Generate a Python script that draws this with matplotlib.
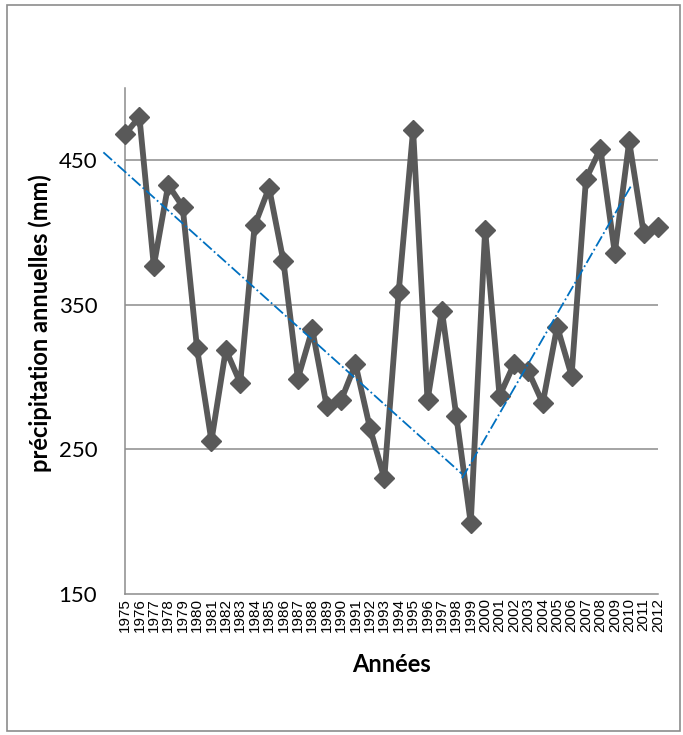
import matplotlib
matplotlib.use("Agg")
import matplotlib.pyplot as plt
from matplotlib.patches import Rectangle

years = list(range(1975, 2013))
precip = [468, 480, 377, 433, 418, 320, 256, 319, 296, 405,
          431, 380, 299, 333, 280, 284, 309, 265, 230, 359,
          471, 284, 346, 273, 199, 402, 287, 309, 304, 282,
          335, 301, 437, 458, 386, 463, 400, 404]

trend1_x = [1973.5, 1998.4]
trend1_y = [455.5, 233]
trend2_x = [1998.4, 2010.2]
trend2_y = [230, 433.5]

yticks = [150, 250, 350, 450]

plt.rcParams['font.family'] = ['Lato', 'DejaVu Sans']

fig = plt.figure(figsize=(6.83, 7.35), dpi=100)
ax = fig.add_axes([125/683, 1-594/735, (658-125)/683, (594-88)/735])

for g in [250, 350, 450]:
    ax.axhline(g, color='#8c8c8c', lw=1.1, zorder=1)

ax.plot(years, precip, color='#595959', lw=4.2, marker='D', markersize=10,
        markerfacecolor='#595959', markeredgecolor='#595959',
        clip_on=False, zorder=3)
ax.plot(trend1_x, trend1_y, color='#0070C0', lw=1.3, ls='-.', clip_on=False, zorder=4)
ax.plot(trend2_x, trend2_y, color='#0070C0', lw=1.3, ls='-.', clip_on=False, zorder=4)

ax.set_xlim(1975, 2012)
ax.set_ylim(150, 500)
ax.set_yticks(yticks)
ax.set_yticklabels([str(v) for v in yticks], fontsize=16)
ax.set_xticks(years)
ax.set_xticklabels([str(y) for y in years], rotation=90, fontsize=11,
                   family=['Liberation Sans', 'DejaVu Sans'])
ax.tick_params(axis='y', length=0, pad=20)
ax.tick_params(axis='x', length=0, pad=3)

for s in ['top', 'right']:
    ax.spines[s].set_visible(False)
for s in ['left', 'bottom']:
    ax.spines[s].set_color('#8c8c8c')
    ax.spines[s].set_linewidth(1.1)

fig.text(392/683, 1-664/735, 'Années', ha='center', va='center',
         fontsize=17, fontweight='bold')
fig.text(40/683, 1-323/735, 'précipitation annuelles (mm)', ha='center', va='center',
         rotation=90, fontsize=17, fontweight='bold')

fig.patches.append(Rectangle((7/683, 1-731/735), 673/683, 726/735,
                             transform=fig.transFigure, fill=False,
                             edgecolor='#8c8c8c', lw=1.2))

fig.savefig('out.png', dpi=100)
